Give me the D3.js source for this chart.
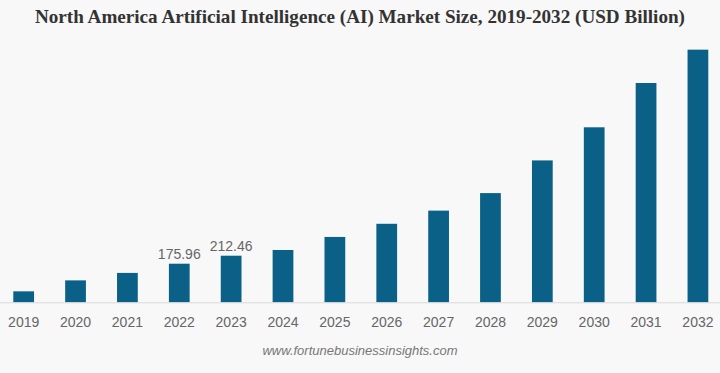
<!DOCTYPE html>
<html>
<head>
<meta charset="utf-8">
<script src="https://cdn.jsdelivr.net/npm/d3@7"></script>
<style>
  html, body { margin: 0; padding: 0; background: #f8f8f8; }
  svg { display: block; }
</style>
</head>
<body>
<div id="chart"></div>
<script>
// chart data
var years = ["2019", "2020", "2021", "2022", "2023", "2024", "2025", "2026", "2027", "2028", "2029", "2030", "2031", "2032"];
var marketSize = [50, 100, 134, 175.96, 212.46, 238.5, 298, 358, 418, 498, 647, 798, 1000, 1152];
var labelledYears = ["2022", "2023"];

var title = "North America Artificial Intelligence (AI) Market Size, 2019-2032 (USD Billion)";
var source = "www.fortunebusinessinsights.com";

var width = 720, height = 373;

var svg = d3.select("#chart").append("svg")
    .attr("width", width)
    .attr("height", height);

svg.append("rect")
    .attr("width", width)
    .attr("height", height)
    .attr("fill", "#f8f8f8");

// scales
var x = d3.scaleBand()
    .domain(years)
    .range([13.3, 708.3])
    .paddingInner(0.6)
    .paddingOuter(0);

var y = d3.scaleLinear()
    .domain([0, 1200])
    .range([302.3, 302.3 - 1200 / 4.56]);

// title
svg.append("text")
    .attr("x", width / 2)
    .attr("y", 23)
    .attr("text-anchor", "middle")
    .attr("font-family", "'Liberation Serif', 'Times New Roman', serif")
    .attr("font-weight", "bold")
    .attr("font-size", 19)
    .attr("textLength", 650)
    .attr("lengthAdjust", "spacingAndGlyphs")
    .attr("fill", "#333")
    .text(title);

// bars
svg.selectAll("rect.bar")
    .data(years)
    .enter()
    .append("rect")
    .attr("class", "bar")
    .attr("x", function (d) { return x(d); })
    .attr("width", x.bandwidth())
    .attr("y", function (d, i) { return y(marketSize[i]); })
    .attr("height", function (d, i) { return y(0) - y(marketSize[i]); })
    .attr("fill", "#0b6088");

// baseline
svg.append("line")
    .attr("x1", 0)
    .attr("x2", width)
    .attr("y1", y(0) + 0.5)
    .attr("y2", y(0) + 0.5)
    .attr("stroke", "#d9d9d9")
    .attr("stroke-width", 1);

// x axis labels
var axis = svg.append("g")
    .attr("transform", "translate(0," + (y(0) + 1) + ")")
    .call(d3.axisBottom(x).tickSize(0).tickPadding(14));

axis.select(".domain").remove();
axis.selectAll("text")
    .attr("font-family", "'Liberation Sans', Arial, sans-serif")
    .attr("font-size", 14)
    .attr("fill", "#666");

// value labels for 2022 and 2023
svg.selectAll("text.value")
    .data(years.filter(function (d) { return labelledYears.indexOf(d) >= 0; }))
    .enter()
    .append("text")
    .attr("class", "value")
    .attr("x", function (d) { return x(d) + x.bandwidth() / 2; })
    .attr("y", function (d) { return y(marketSize[years.indexOf(d)]) - 5; })
    .attr("text-anchor", "middle")
    .attr("font-family", "'Liberation Sans', Arial, sans-serif")
    .attr("font-size", 14)
    .attr("fill", "#666")
    .text(function (d) { return d3.format(".2f")(marketSize[years.indexOf(d)]); });

// source
svg.append("text")
    .attr("x", width / 2)
    .attr("y", 355)
    .attr("text-anchor", "middle")
    .attr("font-family", "'Liberation Sans', Arial, sans-serif")
    .attr("font-style", "italic")
    .attr("font-size", 13)
    .attr("fill", "#777")
    .text(source);
</script>
</body>
</html>
